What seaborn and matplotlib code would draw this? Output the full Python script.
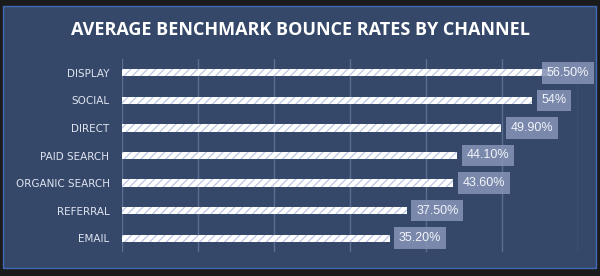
import matplotlib
matplotlib.use("Agg")
import matplotlib.pyplot as plt
from matplotlib.patches import Rectangle
import seaborn as sns
import pandas as pd

channels = ["DISPLAY", "SOCIAL", "DIRECT", "PAID SEARCH", "ORGANIC SEARCH", "REFERRAL", "EMAIL"]
rates = [56.5, 54.0, 49.9, 44.1, 43.6, 37.5, 35.2]
value_labels = ["56.50%", "54%", "49.90%", "44.10%", "43.60%", "37.50%", "35.20%"]
title = "AVERAGE BENCHMARK BOUNCE RATES BY CHANNEL"

df = pd.DataFrame({"channel": channels, "rate": rates})

sns.set_theme(style="white")
plt.rcParams["font.family"] = ["Liberation Sans", "DejaVu Sans"]
plt.rcParams["hatch.linewidth"] = 0.9

PANEL = "#35486a"
fig = plt.figure(figsize=(6, 2.76), dpi=100, facecolor="#1b1b1b")
fig.patches.append(Rectangle((3 / 600, 1 - 268 / 276), 593 / 600, 262 / 276,
                             transform=fig.transFigure, facecolor=PANEL,
                             edgecolor="#3f6bb5", linewidth=1.0, zorder=-10))

ax = fig.add_axes([122 / 600, 1 - 252 / 276, 456 / 600, 193 / 276])
ax.set_facecolor("none")
ax.set_zorder(2)

sns.barplot(data=df, y="channel", x="rate", orient="h", ax=ax,
            color="white", width=0.26, saturation=1, zorder=3)
for p in ax.patches:
    p.set_hatch("////")
    p.set_edgecolor("#bcc6e4")
    p.set_linewidth(0.0)
    p.set_facecolor("white")

ax.set_xlim(0, 60)
ax.set_ylim(6.5, -0.5)
ax.set_xticks(range(0, 61, 10))
ax.xaxis.grid(True, color="#5c6e90", linewidth=1.0, zorder=0)
ax.set_axisbelow(True)
ax.tick_params(axis="x", labelbottom=False, length=0)
ax.tick_params(axis="y", length=0, pad=9, labelsize=7.5, labelcolor="#dfe3ee")
for s in ax.spines.values():
    s.set_visible(False)
ax.set_xlabel("")
ax.set_ylabel("")
for lbl in ax.get_yticklabels():
    lbl.set_fontfamily(["DejaVu Sans"])

for i, (v, t) in enumerate(zip(rates, value_labels)):
    ax.text(min(v + 1.2, 55.9), i, t, va="center", ha="left", fontsize=9,
            color="#f2f4fa", zorder=5, clip_on=False,
            bbox=dict(boxstyle="square,pad=0.38", facecolor="#8593b6", alpha=0.87,
                      edgecolor="none"))

fig.text(0.5, 1 - 30 / 276, title, ha="center", va="center", color="white",
         fontsize=13, fontweight="bold", family=["Open Sans", "DejaVu Sans"])

fig.savefig("out.png", dpi=100, facecolor=fig.get_facecolor())
